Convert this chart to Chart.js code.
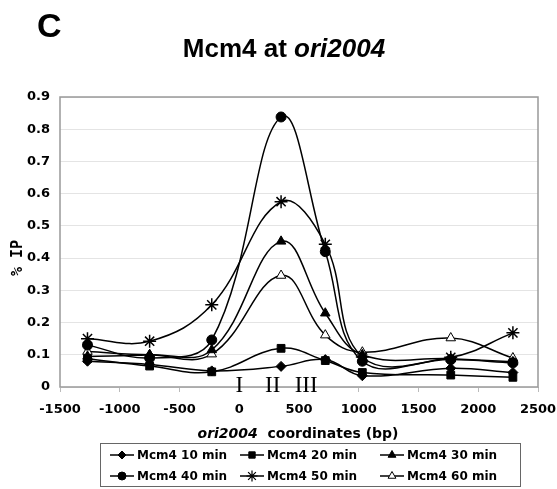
<!DOCTYPE html>
<html>
<head>
<meta charset="utf-8">
<script src="https://cdn.jsdelivr.net/npm/chart.js@4"></script>
<style>
  html, body { margin: 0; padding: 0; background: #fff; }
  #wrap { width: 557px; height: 489px; }
</style>
</head>
<body>
<div id="wrap"><canvas id="mcmChart" width="557" height="489"></canvas></div>
<script>
  // positions along ori2004 (bp)
  const coords = [-1270, -750, -230, 350, 720, 1030, 1770, 2290];

  // % IP for each timepoint
  const ip10 = [0.080, 0.070, 0.050, 0.064, 0.085, 0.035, 0.058, 0.045];
  const ip20 = [0.088, 0.065, 0.047, 0.120, 0.082, 0.045, 0.037, 0.030];
  const ip30 = [0.095, 0.100, 0.115, 0.452, 0.229, 0.100, 0.088, 0.078];
  const ip40 = [0.130, 0.090, 0.146, 0.838, 0.420, 0.080, 0.085, 0.075];
  const ip50 = [0.150, 0.142, 0.255, 0.575, 0.443, 0.093, 0.092, 0.168];
  const ip60 = [0.110, 0.100, 0.102, 0.346, 0.161, 0.108, 0.152, 0.090];

  const seriesNames = ['Mcm4 10 min', 'Mcm4 20 min', 'Mcm4 30 min', 'Mcm4 40 min', 'Mcm4 50 min', 'Mcm4 60 min'];
  const seriesValues = [ip10, ip20, ip30, ip40, ip50, ip60];
  const markers = ['rectRot', 'rect', 'triangle', 'circle', 'star', 'triangle'];
  const markerFill = ['#000', '#000', '#000', '#000', '#000', '#fff'];
  const markerSize = [5, 5.5, 5.5, 5, 6.5, 5.5];

  // axis ticks
  const yTicks = [0, 0.1, 0.2, 0.3, 0.4, 0.5, 0.6, 0.7, 0.8, 0.9];
  const xTicks = [-1500, -1000, -500, 0, 500, 1000, 1500, 2000, 2500];

  // roman numeral annotations under the peak
  const romanLabels = ['I', 'II', 'III'];
  const romanPos = [0, 280, 560];

  const tickFont = { family: 'DejaVu Sans', weight: 'bold', size: 13 };

  const datasets = seriesValues.map((vals, i) => ({
    label: seriesNames[i],
    data: coords.map((x, j) => ({ x: x, y: vals[j] })),
    borderColor: '#000',
    borderWidth: 1.5,
    backgroundColor: markerFill[i],
    pointStyle: markers[i],
    pointRadius: markerSize[i],
    pointBorderColor: '#000',
    pointBorderWidth: markers[i] === 'star' ? 1.5 : 1,
    pointBackgroundColor: markerFill[i],
    tension: 0.4,
    fill: false
  }));

  // titles, frame, roman numerals and the boxed legend
  const decorPlugin = {
    id: 'decor',
    beforeDatasetsDraw(chart) {
      const { ctx, chartArea: a } = chart;
      ctx.save();
      ctx.strokeStyle = '#999';
      ctx.lineWidth = 1.5;
      ctx.strokeRect(a.left, a.top, a.right - a.left, a.bottom - a.top);
      ctx.restore();
    },
    afterDraw(chart) {
      const { ctx } = chart;
      const xs = chart.scales.x;
      ctx.save();
      ctx.fillStyle = '#000';
      ctx.textBaseline = 'alphabetic';

      // panel letter
      ctx.font = 'bold 34px "Liberation Sans", Arial';
      ctx.textAlign = 'left';
      ctx.fillText('C', 37, 37);

      // main title, part italic
      const t1 = 'Mcm4 at ', t2 = 'ori2004';
      ctx.font = 'bold 26px "Liberation Sans", Arial';
      const w1 = ctx.measureText(t1).width;
      ctx.font = 'italic bold 26px "Liberation Sans", Arial';
      const w2 = ctx.measureText(t2).width;
      let tx = 284 - (w1 + w2) / 2;
      ctx.font = 'bold 26px "Liberation Sans", Arial';
      ctx.fillText(t1, tx, 57);
      ctx.font = 'italic bold 26px "Liberation Sans", Arial';
      ctx.fillText(t2, tx + w1, 57);

      // x axis title
      const a1 = 'ori2004', a2 = '  coordinates (bp)';
      ctx.font = 'italic bold 14px "DejaVu Sans"';
      const aw1 = ctx.measureText(a1).width;
      ctx.font = 'bold 14px "DejaVu Sans"';
      const aw2 = ctx.measureText(a2).width;
      let ax = 298 - (aw1 + aw2) / 2;
      ctx.font = 'italic bold 14px "DejaVu Sans"';
      ctx.fillText(a1, ax, 438);
      ctx.font = 'bold 14px "DejaVu Sans"';
      ctx.fillText(a2, ax + aw1, 438);

      // y axis title
      ctx.save();
      ctx.translate(22, 258);
      ctx.rotate(-Math.PI / 2);
      ctx.textAlign = 'center';
      ctx.font = 'bold 15px "DejaVu Sans Mono"';
      ctx.fillText('% IP', 0, 0);
      ctx.restore();

      // roman numerals
      ctx.font = '23px "Liberation Serif", "Times New Roman"';
      ctx.textAlign = 'center';
      romanLabels.forEach((lab, i) => {
        ctx.fillText(lab, xs.getPixelForValue(romanPos[i]), 392);
      });

      // legend box
      ctx.strokeStyle = '#666';
      ctx.lineWidth = 1;
      ctx.strokeRect(100.5, 443.5, 420, 43);
      const colX = [110, 240, 380];
      const rowY = [455, 476];
      ctx.font = 'bold 12px "DejaVu Sans"';
      ctx.textAlign = 'left';
      ctx.textBaseline = 'middle';
      seriesNames.forEach((name, i) => {
        const cx = colX[i % 3], cy = rowY[Math.floor(i / 3)];
        ctx.strokeStyle = '#000';
        ctx.lineWidth = 1.5;
        ctx.beginPath();
        ctx.moveTo(cx, cy);
        ctx.lineTo(cx + 24, cy);
        ctx.stroke();
        ctx.fillStyle = markerFill[i];
        ctx.lineWidth = markers[i] === 'star' ? 1.2 : 1;
        Chart.helpers.drawPoint(ctx, {
          pointStyle: markers[i],
          radius: markerSize[i] - 1,
          rotation: 0,
          borderWidth: 1
        }, cx + 12, cy);
        ctx.fillStyle = '#000';
        ctx.fillText(name, cx + 27, cy + 1);
      });
      ctx.restore();
    }
  };

  const config = {
    type: 'line',
    data: { datasets: datasets },
    plugins: [decorPlugin],
    options: {
      responsive: false,
      animation: false,
      layout: { padding: { top: 97, right: 19, left: 0, bottom: 0 } },
      plugins: {
        legend: { display: false },
        tooltip: { enabled: false }
      },
      scales: {
        x: {
          type: 'linear',
          min: -1500,
          max: 2500,
          afterBuildTicks: (scale) => { scale.ticks = xTicks.map(v => ({ value: v })); },
          afterFit: (scale) => {
            scale.height = 102;
            scale.paddingLeft = 0;
            scale.paddingRight = 0;
          },
          border: { display: false },
          grid: {
            drawOnChartArea: false,
            drawTicks: true,
            tickLength: 5,
            color: '#bbb'
          },
          ticks: {
            color: '#000',
            font: tickFont,
            padding: 10,
            maxRotation: 0,
            callback: (v) => String(v)
          }
        },
        y: {
          min: 0,
          max: 0.9,
          afterBuildTicks: (scale) => { scale.ticks = yTicks.map(v => ({ value: v })); },
          afterFit: (scale) => {
            scale.width = 60;
            scale.paddingTop = 0;
            scale.paddingBottom = 0;
          },
          border: { display: false },
          grid: {
            color: '#e4e4e4',
            drawTicks: false
          },
          ticks: {
            color: '#000',
            font: tickFont,
            padding: 10,
            callback: (v) => String(Math.round(v * 10) / 10)
          }
        }
      }
    }
  };

  window.addEventListener('DOMContentLoaded', function() {
    const ctx = document.getElementById('mcmChart').getContext('2d');
    new Chart(ctx, config);
  });
</script>
</body>
</html>
